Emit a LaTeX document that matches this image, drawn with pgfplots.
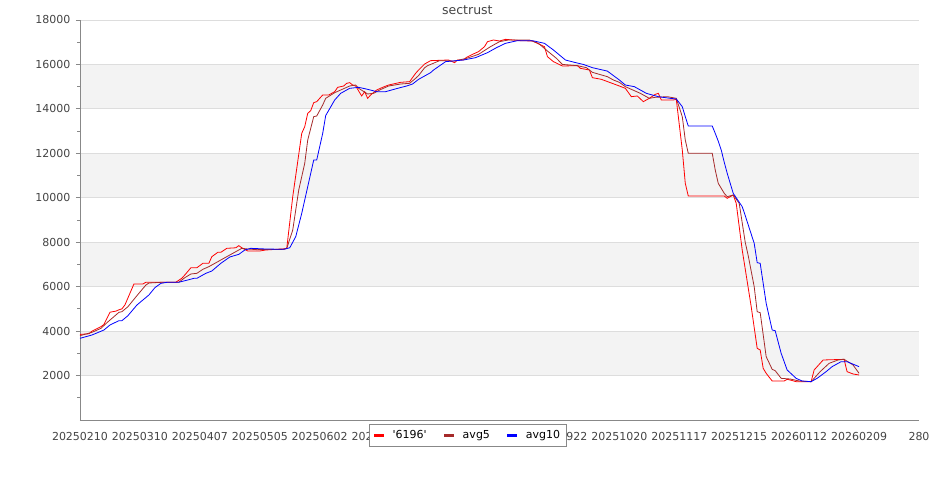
\documentclass[border=0pt]{standalone}
\usepackage{fontspec}
\setmainfont{DejaVu Sans}[Ligatures=ResetAll]
\usepackage{pgfplots}
\pgfplotsset{compat=1.18}
\definecolor{bandgray}{HTML}{F3F3F3}
\definecolor{gridgray}{HTML}{DDDDDD}
\definecolor{axisgray}{HTML}{888888}
\definecolor{textgray}{HTML}{444444}
\definecolor{avgbrown}{HTML}{A52A2A}
\begin{document}
\begin{tikzpicture}
\begin{axis}[
  set layers,
  at={(0pt,0pt)}, anchor=south west,
  scale only axis, width=839pt, height=400pt,
  xmin=0, xmax=280, ymin=0, ymax=18000,
  axis x line=bottom, axis y line=left,
  axis line style={-, draw=axisgray, line width=0.8pt},
  xtick={0,20,...,280},
  xticklabels={20250210,20250310,20250407,20250505,20250602,20250630,20250728,20250825,20250922,20251020,20251117,20251215,20260112,20260209,280},
  xtick style={draw=none},
  ytick={2000,4000,...,18000},
  minor ytick={1000,3000,...,17000},
  ytick style={draw=axisgray, line width=0.8pt},
  tick align=outside,
  major tick length=4pt, minor tick length=2.5pt,
  ymajorgrids, major grid style={draw=gridgray, line width=0.8pt},
  ticklabel style={font=\fontsize{11}{13}\selectfont, text=textgray},
  xticklabel style={yshift=-5pt},
  yticklabel style={xshift=-2pt},
  /pgf/number format/assume math mode=true,
  /pgf/number format/set thousands separator={},
  scaled y ticks=false,
  every axis title shift=0pt,
  title=sectrust,
  title style={at={(0.4617,1.025)}, anchor=center, font=\fontsize{12.5}{14}\selectfont, text=textgray},
  legend columns=3,
  legend style={at={(0.4618,-0.03875)}, anchor=center, draw=axisgray, fill=white,
    font=\fontsize{11}{13}\selectfont, inner xsep=4pt, inner ysep=4pt,
    /tikz/every even column/.append style={column sep=14pt}},
  legend image code/.code={\draw[#1, line width=3pt] (0pt,0pt) -- (10pt,0pt); \path[draw=none] (0pt,0pt) -- (16.5pt,0pt);},
]
\addplot[fill=bandgray, draw=none, forget plot, on layer=axis background] coordinates {(0,2000)(280,2000)(280,4000)(0,4000)};
\addplot[fill=bandgray, draw=none, forget plot, on layer=axis background] coordinates {(0,6000)(280,6000)(280,8000)(0,8000)};
\addplot[fill=bandgray, draw=none, forget plot, on layer=axis background] coordinates {(0,10000)(280,10000)(280,12000)(0,12000)};
\addplot[fill=bandgray, draw=none, forget plot, on layer=axis background] coordinates {(0,14000)(280,14000)(280,16000)(0,16000)};
\addplot[color=red, line width=0.8pt] coordinates {
(0,3850)(3,3880)(4,4000)(7,4200)(8,4300)(10,4850)(12,4900)(13,4960)(14,5000)(15,5180)
(18,6120)(21,6120)(22,6200)(32,6200)(34,6380)(35,6530)(37,6850)(39,6850)(41,7050)(43,7050)
(44,7350)(46,7545)(47,7545)(49,7725)(52,7750)(53,7845)(54,7750)(56,7605)(60,7605)(62,7650)
(68,7700)(69,7725)(71,10050)(74,12900)(75,13200)(76,13800)(77,13920)(78,14280)(79,14325)(81,14625)
(83,14625)(85,14775)(86,14970)(88,15030)(89,15150)(90,15180)(91,15075)(92,15030)(94,14580)(95,14775)
(96,14475)(97,14625)(99,14850)(101,14970)(103,15075)(107,15195)(110,15225)(112,15600)(113,15750)(115,16020)
(116,16095)(117,16170)(123,16200)(125,16080)(126,16200)(128,16200)(129,16320)(131,16455)(133,16575)(135,16800)
(136,17025)(138,17100)(140,17055)(142,17130)(147,17070)(151,17055)(155,16800)(156,16350)(158,16125)(161,15930)
(166,15945)(167,15825)(170,15750)(171,15405)(174,15330)(177,15180)(180,15030)(182,14925)(184,14550)(186,14580)
(188,14325)(190,14475)(192,14655)(193,14700)(194,14400)(198,14400)(199,14430)(201,12150)(202,10650)(203,10080)
(215,10080)(216,9975)(218,10125)(219,9750)(221,7650)(224,5100)(226,3225)(227,3150)(228,2325)(229,2100)
(231,1755)(235,1755)(236,1830)(237,1800)(239,1725)(244,1725)(245,2250)(248,2700)(255,2730)(256,2175)
(258,2070)(260,2025)
};
\addlegendentry{\textquotesingle6196\textquotesingle}
\addplot[color=avgbrown, line width=0.8pt] coordinates {
(0,3795)(4,3945)(7,4125)(9,4380)(13,4845)(14,4875)(16,5100)(19,5595)(22,6075)(23,6165)
(27,6195)(33,6200)(35,6405)(37,6570)(39,6600)(41,6780)(43,6900)(45,7050)(48,7275)(52,7575)
(54,7725)(56,7695)(59,7665)(68,7680)(69,7725)(71,8550)(73,10350)(75,11550)(76,12600)(78,13650)
(79,13680)(81,14175)(82,14475)(85,14730)(87,14850)(90,15030)(92,15075)(93,14925)(96,14670)(98,14700)
(100,14850)(103,15030)(107,15120)(110,15150)(112,15375)(113,15500)(115,15850)(116,15945)(117,16000)(120,16170)
(125,16155)(129,16275)(133,16455)(137,16800)(140,17025)(143,17100)(150,17100)(153,16950)(156,16605)(159,16275)
(161,16000)(166,15945)(169,15855)(171,15645)(176,15450)(178,15300)(180,15195)(182,15000)(187,14700)(190,14475)
(192,14520)(196,14550)(199,14475)(201,13650)(202,12600)(203,12000)(211,12000)(212,11250)(213,10650)(215,10200)
(216,10050)(218,10125)(220,9750)(222,8000)(223,7400)(225,6000)(226,4875)(227,4830)(229,2850)(231,2280)
(232,2220)(234,1875)(237,1845)(240,1755)(244,1725)(247,2175)(250,2550)(253,2700)(255,2730)(258,2475)
(260,2100)
};
\addlegendentry{avg5}
\addplot[color=blue, line width=0.8pt] coordinates {
(0,3675)(4,3825)(8,4050)(10,4275)(13,4470)(14,4470)(16,4695)(19,5175)(23,5625)(25,5955)
(27,6150)(29,6195)(33,6200)(36,6300)(38,6375)(39,6375)(42,6600)(44,6705)(47,7050)(50,7335)
(53,7455)(55,7650)(57,7725)(62,7695)(68,7680)(70,7750)(72,8250)(74,9300)(76,10500)(78,11700)
(79,11700)(81,12900)(82,13700)(85,14400)(87,14700)(90,14925)(93,14970)(96,14880)(99,14775)(102,14775)
(106,14925)(109,15030)(111,15120)(113,15330)(117,15630)(118,15750)(122,16125)(128,16200)(132,16305)(136,16530)
(139,16755)(142,16950)(146,17070)(151,17070)(155,16950)(158,16650)(162,16200)(165,16095)(168,16000)(171,15855)
(176,15700)(178,15500)(180,15300)(182,15075)(185,15000)(189,14700)(193,14550)(197,14475)(199,14445)(201,14100)
(202,13650)(203,13230)(211,13230)(212,12900)(213,12550)(214,12150)(215,11600)(216,11100)(217,10650)(218,10200)
(221,9600)(222,9200)(225,7950)(226,7080)(227,7050)(229,5250)(231,4050)(232,4020)(234,3000)(236,2250)
(239,1875)(241,1755)(244,1725)(246,1875)(249,2175)(251,2400)(254,2625)(256,2625)(260,2400)
};
\addlegendentry{avg10}
\end{axis}
\pgfresetboundingbox
\path (-80pt,-80pt) rectangle (855pt,420pt);
\end{tikzpicture}
\end{document}
